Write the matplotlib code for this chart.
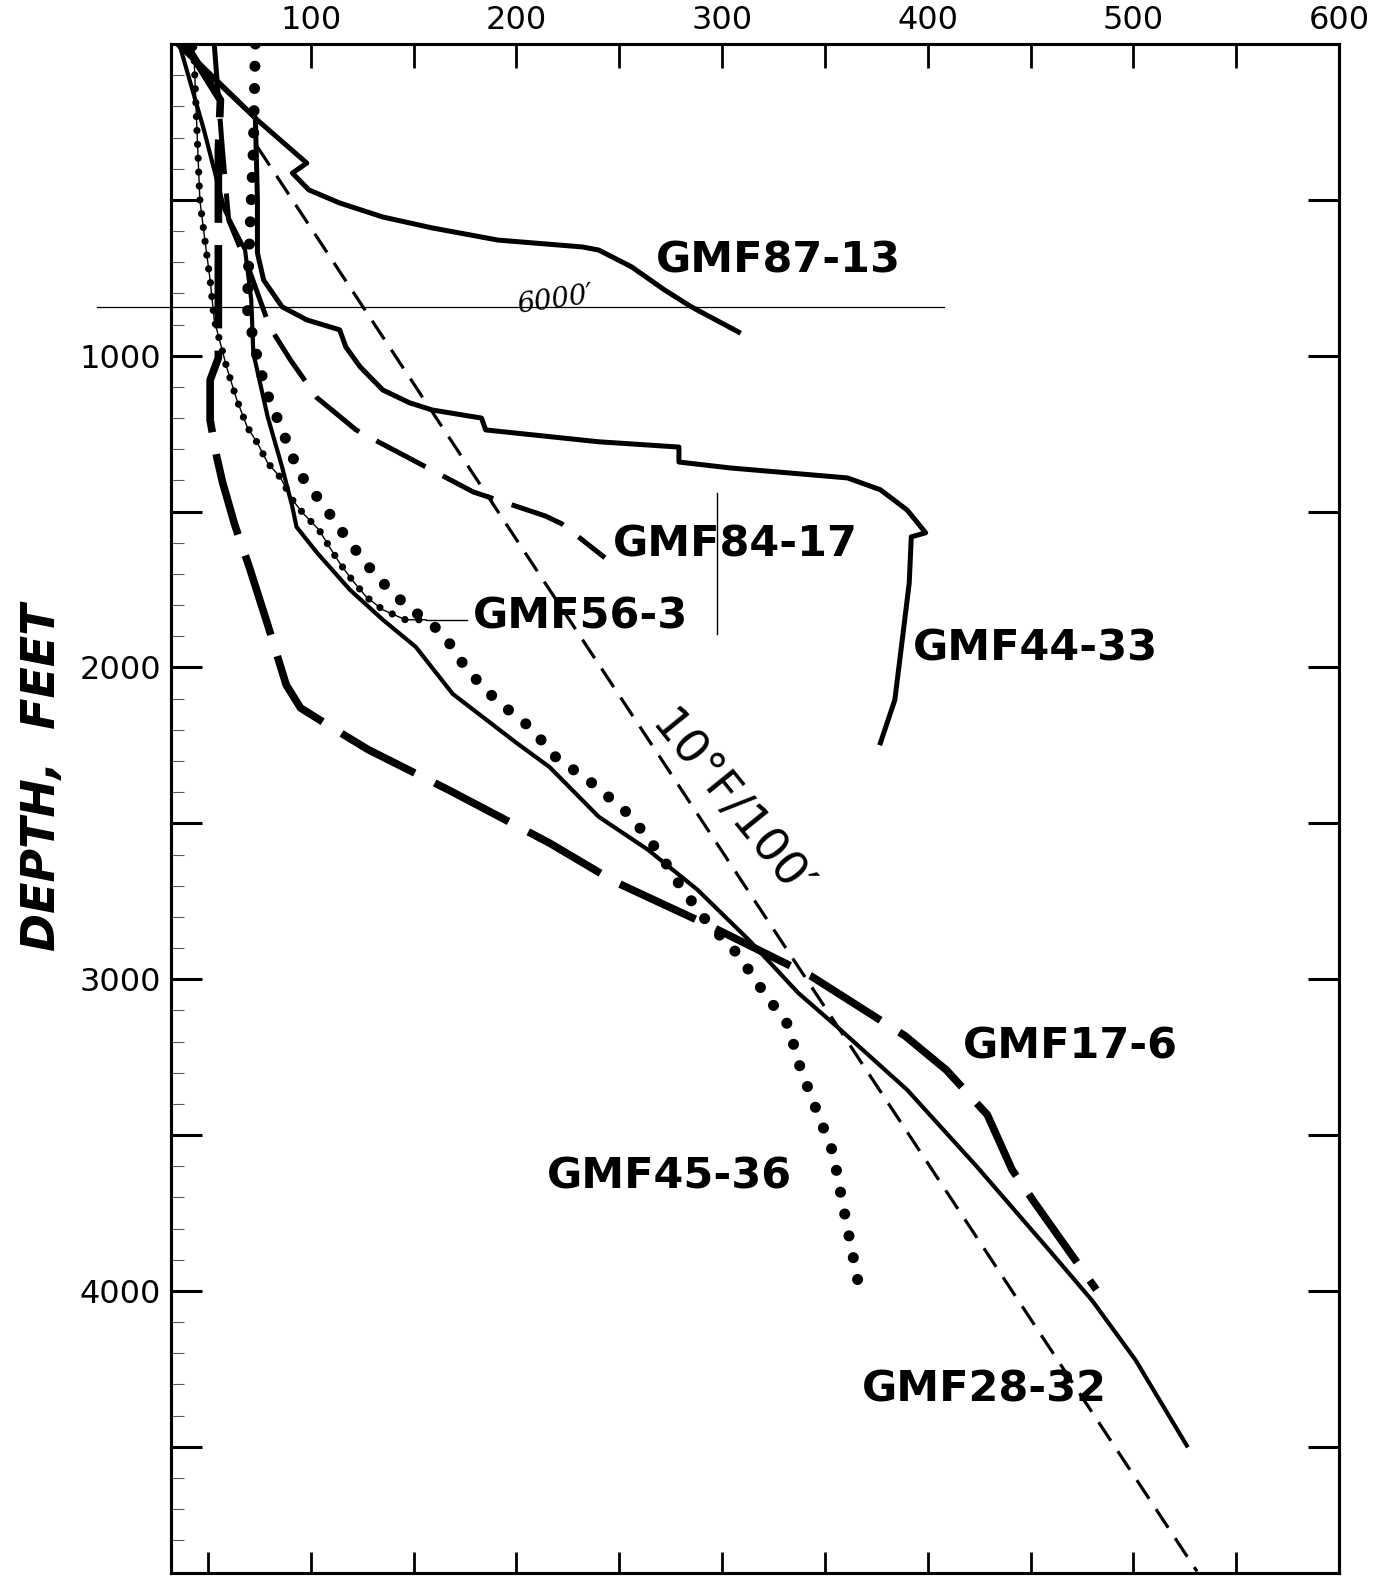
import matplotlib
matplotlib.use("Agg")
import matplotlib.pyplot as plt
from matplotlib.ticker import FuncFormatter

plt.rcParams['font.family'] = ['DejaVu Sans']
plt.rcParams['lines.scale_dashes'] = False

# ---------------- data (temperature degF, depth ft) ----------------
t_87_13 = [35, 74, 98, 91, 99, 114, 135, 159, 191, 232, 240, 256, 272, 285, 308]
d_87_13 = [0, 244, 382, 414, 468, 510, 555, 590, 629, 651, 661, 715, 789, 843, 924]

t_44_33 = [36, 73, 74, 74, 77, 86, 98, 114, 117, 124, 135, 148, 159, 183, 185,
           240, 279, 279, 304, 361, 377, 390, 399, 392, 391, 390, 387, 384, 377]
d_44_33 = [0, 237, 500, 670, 757, 843, 885, 917, 972, 1036, 1110, 1151, 1174, 1200, 1238,
           1276, 1293, 1341, 1360, 1392, 1430, 1495, 1568, 1581, 1729, 1783, 1944, 2104, 2242]

t_84_17 = [53, 57, 60, 70, 80, 90, 103, 122, 131, 179, 214, 222, 243]
d_84_17 = [0, 340, 564, 725, 908, 1013, 1135, 1238, 1270, 1437, 1514, 1539, 1648]

t_56_3 = [43, 44, 46, 48, 51, 53, 59, 64, 69, 74, 79, 85, 91, 96, 104, 109, 114, 120, 127, 135, 146, 156]
d_56_3 = [10, 180, 500, 606, 757, 885, 1036, 1142, 1228, 1280, 1344, 1389, 1462, 1504, 1559,
          1613, 1665, 1719, 1774, 1815, 1847, 1847]

t_45_36 = [73, 72, 70, 69, 73, 78, 86, 94, 107, 119, 132, 146, 164, 176, 190, 207, 219, 238,
           255, 269, 280, 293, 308, 320, 332, 338, 346, 354, 358, 362, 366]
d_45_36 = [0, 340, 661, 847, 981, 1110, 1238, 1373, 1488, 1600, 1709, 1799, 1889, 2008, 2104,
           2194, 2287, 2377, 2473, 2591, 2704, 2819, 2922, 3040, 3146, 3284, 3422, 3557, 3698,
           3833, 3967]

t_17_6 = [39, 56, 55, 55, 55, 51, 51, 54, 57, 63, 70, 79, 88, 95, 112, 128, 167, 216, 248,
          295, 343, 389, 409, 429, 441, 452, 482]
d_17_6 = [0, 180, 340, 661, 1007, 1078, 1206, 1318, 1405, 1543, 1677, 1863, 2056, 2130, 2200,
          2264, 2393, 2563, 2688, 2832, 2989, 3182, 3291, 3435, 3611, 3717, 3996]

t_28_32 = [36, 48, 58, 68, 71, 72, 79, 86, 91, 93, 103, 119, 135, 151, 169, 200, 216, 240,
           264, 288, 313, 337, 356, 390, 424, 458, 480, 501, 526]
d_28_32 = [0, 276, 532, 661, 821, 991, 1196, 1357, 1485, 1549, 1632, 1751, 1847, 1934, 2085,
           2242, 2319, 2479, 2585, 2713, 2874, 3044, 3153, 3355, 3602, 3861, 4031, 4221, 4496]

# 10 degF / 100 ft reference gradient
t_grad = [74, 531]
d_grad = [330, 4900]

# well labels
well_names = ['GMF87-13', 'GMF84-17', 'GMF56-3', 'GMF44-33', 'GMF17-6', 'GMF45-36', 'GMF28-32']
label_t = [268, 247, 179, 393, 417, 215, 368]
label_d = [696, 1604, 1838, 1940, 3217, 3634, 4317]

top_ticks = list(range(100, 601, 50))
bottom_ticks = list(range(50, 551, 50))
depth_ticks = list(range(500, 4501, 500))
depth_minor = list(range(100, 4900, 100))

# scan marks on the original sheet
scan_line_t = [-4, 408]
scan_line_d = [843, 843]
bar_t = [297.5, 297.5]
bar_d = [1440, 1892]
leader_t = [156, 176]
leader_d = [1847, 1847]

# ---------------- figure ----------------
fig = plt.figure(figsize=(13.74, 15.77), dpi=100)
ax = fig.add_axes([0.1245, 0.0025, 0.85, 0.9696])
ax.set_xlim(32, 600)
ax.set_ylim(4905, 0)

k = 'black'
ax.plot(t_grad, d_grad, color=k, lw=2.3, dashes=(16, 9), dash_capstyle='butt')
ax.plot(t_87_13, d_87_13, color=k, lw=3.6, solid_joinstyle='round')
ax.plot(t_44_33, d_44_33, color=k, lw=3.6, solid_joinstyle='round')
ax.plot(t_28_32, d_28_32, color=k, lw=3.0, solid_joinstyle='round')
ax.plot(t_84_17, d_84_17, color=k, lw=3.6, dashes=(40, 14), dash_capstyle='butt')
ax.plot(t_17_6, d_17_6, color=k, lw=5.5, dashes=(60, 16), dash_capstyle='butt')
ax.plot(t_56_3, d_56_3, color=k, lw=1.0)
ax.plot(t_56_3, d_56_3, color=k, lw=5.2, dashes=(0.01, 10), dash_capstyle='round')
ax.plot(t_45_36, d_45_36, color=k, lw=8, dashes=(0.01, 16), dash_capstyle='round')

# scan marks
ax.plot(scan_line_t, scan_line_d, color=k, lw=0.9, clip_on=False)
ax.plot(bar_t, bar_d, color=k, lw=1.0)
ax.plot(leader_t, leader_d, color=k, lw=1.0)
ax.text(219, 822, "6000′", fontsize=20, fontstyle='italic', family='DejaVu Serif',
        rotation=8, ha='center', va='center')

for name, tx, dy in zip(well_names, label_t, label_d):
    ax.text(tx, dy, name, fontsize=31, fontweight='bold', ha='left', va='center', color=k)

ax.text(304, 2445, "10°F/100′", fontsize=34, rotation=-51, ha='center', va='center', color=k)

# ---------------- axes styling ----------------
for s in ax.spines.values():
    s.set_linewidth(2.2)

ax.set_xticks(bottom_ticks)
ax.tick_params(axis='x', which='major', direction='in', length=15, width=2,
               bottom=True, top=False, labelbottom=False, labeltop=False)
ax.tick_params(axis='x', which='minor', bottom=False, top=False)

ax.set_yticks(depth_ticks)
ax.set_yticks(depth_minor, minor=True)
ax.yaxis.set_major_formatter(FuncFormatter(lambda v, p: f"{int(v)}" if v % 1000 == 0 else ""))
ax.tick_params(axis='y', which='major', direction='in', length=22, width=2.2,
               left=True, right=True, labelsize=23, pad=7)
ax.tick_params(axis='y', which='minor', direction='in', length=9, width=0.8,
               left=True, right=False, color='0.35')

ax2 = ax.twiny()
ax2.set_xlim(32, 600)
ax2.set_xticks(top_ticks)
ax2.set_xticklabels([str(v) if v % 100 == 0 else "" for v in top_ticks])
ax2.tick_params(axis='x', direction='in', length=17, width=2, labelsize=23, pad=6)
for s in ax2.spines.values():
    s.set_linewidth(2.2)

fig.text(0.031, 0.507, "DEPTH,  FEET", rotation=90, fontsize=33, fontweight='bold',
         fontstyle='italic', ha='center', va='center')

fig.savefig("out.png", dpi=100)
